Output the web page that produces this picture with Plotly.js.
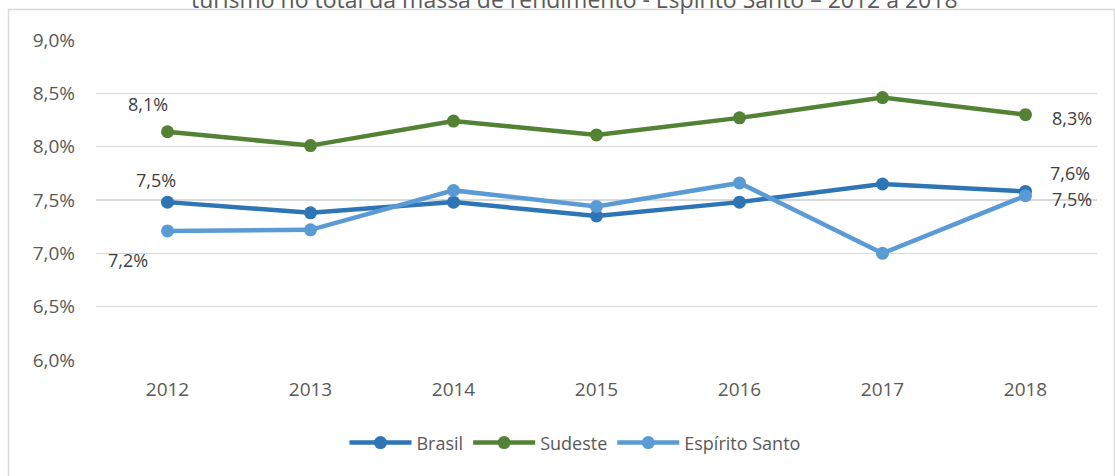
<!DOCTYPE html>
<html>
<head>
<meta charset="utf-8">
<script src="https://cdn.plot.ly/plotly-3.0.1.min.js"></script>
<style>html,body{margin:0;padding:0;background:#fff;}#chart{width:1115px;height:476px;}</style>
</head>
<body>
<div id="chart"></div>
<script>
const years = ['2012','2013','2014','2015','2016','2017','2018'];
const brasil = [7.48, 7.38, 7.48, 7.35, 7.48, 7.65, 7.58];
const sudeste = [8.14, 8.01, 8.24, 8.11, 8.27, 8.46, 8.30];
const espiritoSanto = [7.21, 7.22, 7.59, 7.44, 7.66, 7.00, 7.54];
const seriesNames = ['Brasil', 'Sudeste', 'Espírito Santo'];
const yTicks = [6.0, 6.5, 7.0, 7.5, 8.0, 8.5, 9.0];
const titleText = 'turismo no total da massa de rendimento - Espírito Santo – 2012 a 2018';

const colors = ['#2E75B6', '#548235', '#5B9BD5'];
const allSeries = [brasil, sudeste, espiritoSanto];
const fmt = v => v.toFixed(1).replace('.', ',') + '%';
const FONT = 'Open Sans, sans-serif';

const traces = allSeries.map((vals, i) => ({
  x: years, y: vals, name: seriesNames[i], type: 'scatter', mode: 'lines+markers',
  line: {color: colors[i], width: 4.5},
  marker: {color: colors[i], size: 13},
  hoverinfo: 'skip'
}));

// label placement offsets (style only)
const labelOffsets = [
  [[-12, 22], [44, 18]],   // Brasil first, last
  [[-20, 28], [46, -3]],   // Sudeste
  [[-40, -29], [46, -3]]   // ES
];
const annotations = [];
allSeries.forEach((vals, i) => {
  [0, vals.length - 1].forEach((idx, k) => {
    annotations.push({
      x: idx, y: vals[idx], xref: 'x', yref: 'y',
      text: fmt(vals[idx]), showarrow: false,
      xshift: labelOffsets[i][k][0], yshift: labelOffsets[i][k][1],
      font: {family: FONT, size: 18, color: '#404040'}
    });
  });
});
annotations.push({
  x: 0.4785, y: 1.128, xref: 'paper', yref: 'paper', xanchor: 'center', yanchor: 'middle',
  text: titleText, showarrow: false,
  font: {family: FONT, size: 23, color: '#595959'}
});

const layout = {
  width: 1115, height: 476,
  margin: {l: 96, r: 18, t: 40, b: 116},
  paper_bgcolor: '#ffffff', plot_bgcolor: '#ffffff',
  showlegend: true,
  legend: {orientation: 'h', x: 0.4785, xanchor: 'center', y: -0.259, yanchor: 'middle',
    font: {family: FONT, size: 18, color: '#595959'}, itemwidth: 62,
    traceorder: 'normal'},
  xaxis: {type: 'category', range: [-0.5, 6.5], showgrid: false, zeroline: false,
    showline: false, ticks: '', ticklabelstandoff: 16,
    tickfont: {family: FONT, size: 19, color: '#595959'}},
  yaxis: {range: [6.0, 9.0], tickvals: yTicks, ticktext: yTicks.map(fmt),
    showgrid: true, gridcolor: '#D9D9D9', gridwidth: 1.5, zeroline: false, showline: false,
    ticks: '', ticklabelstandoff: 20,
    tickfont: {family: FONT, size: 19, color: '#595959'}},
  shapes: [{type: 'rect', xref: 'paper', yref: 'paper', x0: -0.0874, x1: 1.0175, y0: -0.6, y1: 1.0953,
    line: {color: '#D9D9D9', width: 1.5}, layer: 'below'}],
  annotations: annotations
};

Plotly.newPlot('chart', traces, layout, {displayModeBar: false, staticPlot: true});
</script>
</body>
</html>
